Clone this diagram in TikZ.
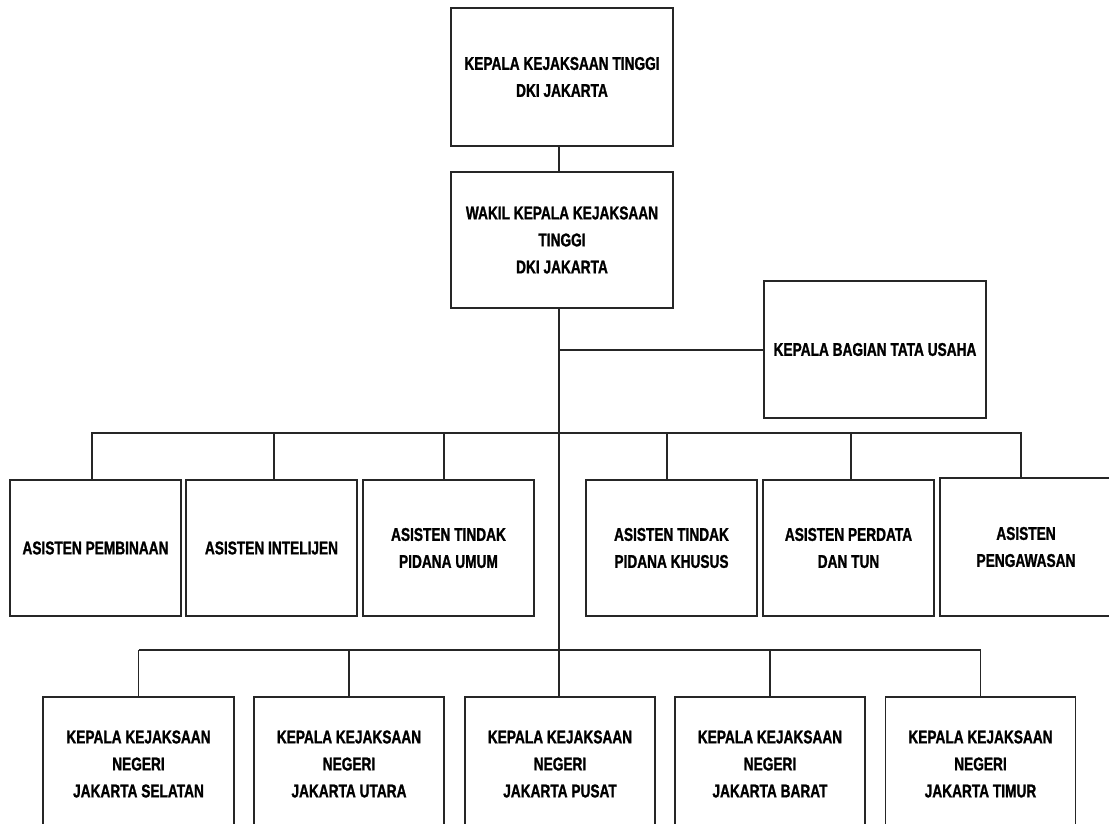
\documentclass[tikz,border=0pt]{standalone}
\usepackage{fontspec}
\newfontfamily\lblfont{Liberation Sans}[FakeStretch=0.74, FakeBold=1.2]
\begin{document}
\begin{tikzpicture}[x=1pt,y=-1pt,
  box/.style={draw=black!85, line width=1.3pt, fill=white, align=center, inner sep=0pt,
    font=\lblfont\bfseries\fontsize{18.5}{27}\selectfont},
  conn/.style={draw=black!85, line width=1.2pt}]
\useasboundingbox (0,0) rectangle (1109,823);
% top
\node[box, minimum width=222, minimum height=138] (kt) at (562,77) {KEPALA KEJAKSAAN TINGGI\\DKI JAKARTA};
\node[box, minimum width=222, minimum height=136] (wk) at (562,240) {WAKIL KEPALA KEJAKSAAN\\TINGGI\\DKI JAKARTA};
\node[box, minimum width=222, minimum height=137] (tu) at (875,349.5) {KEPALA BAGIAN TATA USAHA};
% row 2
\node[box, minimum width=171, minimum height=136] (a1) at (95.5,548) {ASISTEN PEMBINAAN};
\node[box, minimum width=171, minimum height=136] (a2) at (271.5,548) {ASISTEN INTELIJEN};
\node[box, minimum width=171, minimum height=136] (a3) at (448.5,548) {ASISTEN TINDAK\\PIDANA UMUM};
\node[box, minimum width=171, minimum height=136] (a4) at (671.5,548) {ASISTEN TINDAK\\PIDANA KHUSUS};
\node[box, minimum width=171, minimum height=136] (a5) at (848.5,548) {ASISTEN PERDATA\\DAN TUN};
\node[box, minimum width=172, minimum height=138] (a6) at (1026,547) {ASISTEN\\PENGAWASAN};
% row 3
\node[box, minimum width=191, minimum height=134] (n1) at (138.5,764) {KEPALA KEJAKSAAN\\NEGERI\\JAKARTA SELATAN};
\node[box, minimum width=190, minimum height=134] (n2) at (349,764) {KEPALA KEJAKSAAN\\NEGERI\\JAKARTA UTARA};
\node[box, minimum width=190, minimum height=134] (n3) at (560,764) {KEPALA KEJAKSAAN\\NEGERI\\JAKARTA PUSAT};
\node[box, minimum width=190, minimum height=134] (n4) at (770,764) {KEPALA KEJAKSAAN\\NEGERI\\JAKARTA BARAT};
\node[box, minimum width=190, minimum height=134] (n5) at (980.5,764) {KEPALA KEJAKSAAN\\NEGERI\\JAKARTA TIMUR};
% helper coordinates
\coordinate (trunk) at (559,0);
\coordinate (b1) at (0,350);
\coordinate (b2) at (0,433);
\coordinate (b3) at (0,650);
% connectors
\draw[conn] (kt.south -| trunk) -- (wk.north -| trunk);
\draw[conn] (wk.south -| trunk) -- (n3.north -| trunk);
\draw[conn] (b1 -| trunk) -- (b1 -| tu.west);
\draw[conn] (b2 -| a1.north) ++(-3.5,0) -- ++(929,0);
\draw[conn] ([xshift=-3.5pt]a1.north) -- ++(0,-47);
\draw[conn] ([xshift=2.5pt]a2.north) -- ++(0,-47);
\draw[conn] ([xshift=-4.5pt]a3.north) -- ++(0,-47);
\draw[conn] ([xshift=-4.5pt]a4.north) -- ++(0,-47);
\draw[conn] ([xshift=2.5pt]a5.north) -- ++(0,-47);
\draw[conn] ([xshift=-5pt]a6.north) -- ++(0,-45);
\draw[conn] (b3 -| n1.north) -- (b3 -| n5.north);
\draw[conn] (n1.north) -- (b3 -| n1.north);
\draw[conn] (n2.north) -- (b3 -| n2.north);
\draw[conn] (n4.north) -- (b3 -| n4.north);
\draw[conn] (n5.north) -- (b3 -| n5.north);
\end{tikzpicture}
\end{document}
